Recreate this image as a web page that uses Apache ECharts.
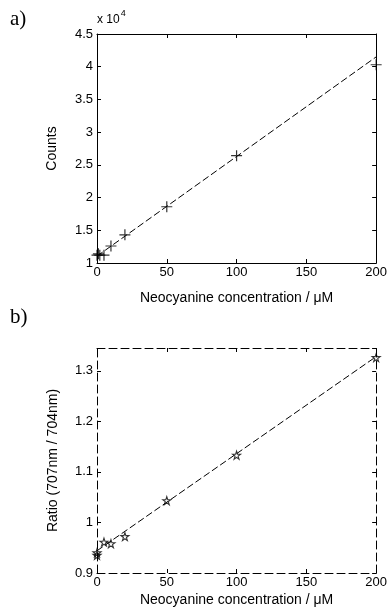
<!DOCTYPE html>
<html>
<head>
<meta charset="utf-8">
<script src="https://cdn.jsdelivr.net/npm/echarts@6/dist/echarts.min.js"></script>
<style>
  html, body { margin: 0; padding: 0; background: #fff; }
  #chart { width: 390px; height: 615px; }
</style>
</head>
<body>
<div id="chart"></div>
<script>
// panel a: counts (x 10^4) vs concentration
const concA = [0, 1, 2, 5, 10, 20, 50, 100, 200];
const countsA = [1.12, 1.14, 1.12, 1.12, 1.26, 1.43, 1.86, 2.64, 4.03];
const fitX = [0, 200];
const fitA = [1.105, 4.15];

// panel b: ratio 707nm / 704nm vs concentration
const concB = [0, 0, 5, 10, 20, 50, 100, 200];
const ratioB = [0.94, 0.935, 0.961, 0.958, 0.972, 1.043, 1.133, 1.326];
const fitB = [0.944, 1.328];

const font = 'Liberation Sans, Arial, sans-serif';
const black = '#000';

const plusPath = 'path://M0,5 L10,5 M5,0 L5,10';
const starPath = 'path://M5,0 L6.2,3.6 L10,3.6 L6.9,5.9 L8.1,9.5 L5,7.3 L1.9,9.5 L3.1,5.9 L0,3.6 L3.8,3.6 Z';

const chart = echarts.init(document.getElementById('chart'));

const axisCommon = (dashed) => ({
  axisLine: { show: true, onZero: false, lineStyle: { color: black, width: 1, type: dashed ? [8, 4] : 'solid' } },
  axisTick: { show: true, inside: true, length: 4, lineStyle: { color: black } },
  splitLine: { show: false },
  axisLabel: { color: black, fontFamily: font, fontSize: 13 }
});

const nameStyle = { color: black, fontFamily: font, fontSize: 14 };

const xAxisFor = (gridIndex, dashed, gap) => [
  {
    ...axisCommon(dashed),
    type: 'value', gridIndex, min: 0, max: 200, interval: 50, position: 'bottom',
    name: 'Neocyanine concentration / \u03bcM', nameLocation: 'middle', nameGap: gap,
    nameTextStyle: nameStyle,
    axisLabel: { color: black, fontFamily: font, fontSize: 13, margin: 3 }
  },
  {
    ...axisCommon(dashed),
    type: 'value', gridIndex, min: 0, max: 200, interval: 50, position: 'top',
    axisLabel: { show: false }
  }
];

const fmtB = (v) => {
  const r = Math.round(v * 10);
  if (Math.abs(v * 10 - r) > 1e-6) return '';
  return String(+(r / 10).toFixed(1));
};

chart.setOption({
  animation: false,
  grid: [
    { left: 97, top: 34, width: 281, height: 229 },
    { left: 97, top: 348, width: 281, height: 225 }
  ],
  xAxis: [...xAxisFor(0, false, 28), ...xAxisFor(1, true, 20)],
  yAxis: [
    {
      ...axisCommon(false),
      type: 'value', gridIndex: 0, min: 1, max: 4.5, interval: 0.5, position: 'left',
      name: 'Counts', nameLocation: 'middle', nameGap: 38, nameRotate: 90,
      nameTextStyle: nameStyle,
      axisLabel: { color: black, fontFamily: font, fontSize: 13, margin: 4 }
    },
    {
      ...axisCommon(false),
      type: 'value', gridIndex: 0, min: 1, max: 4.5, interval: 0.5, position: 'right',
      axisLabel: { show: false }
    },
    {
      ...axisCommon(true),
      type: 'value', gridIndex: 1, min: 0.9, max: 1.345, interval: 0.1, position: 'left',
      name: 'Ratio (707nm / 704nm)', nameLocation: 'middle', nameGap: 37, nameRotate: 90,
      nameTextStyle: nameStyle,
      axisLabel: { color: black, fontFamily: font, fontSize: 13, margin: 4, formatter: fmtB }
    },
    {
      ...axisCommon(true),
      type: 'value', gridIndex: 1, min: 0.9, max: 1.345, interval: 0.1, position: 'right',
      axisLabel: { show: false }
    }
  ],
  series: [
    {
      type: 'line', xAxisIndex: 0, yAxisIndex: 0,
      data: fitX.map((x, i) => [x, fitA[i]]),
      showSymbol: false, silent: true,
      lineStyle: { color: black, width: 1, type: [7, 3] }
    },
    {
      type: 'scatter', xAxisIndex: 0, yAxisIndex: 0,
      data: concA.map((x, i) => [x, countsA[i]]),
      symbol: plusPath, symbolSize: 11,
      itemStyle: { color: 'none', borderColor: black, borderWidth: 1.2 }
    },
    {
      type: 'line', xAxisIndex: 2, yAxisIndex: 2,
      data: fitX.map((x, i) => [x, fitB[i]]),
      showSymbol: false, silent: true,
      lineStyle: { color: black, width: 1, type: [7, 3] }
    },
    {
      type: 'scatter', xAxisIndex: 2, yAxisIndex: 2,
      data: concB.map((x, i) => [x, ratioB[i]]),
      symbol: starPath, symbolSize: 8,
      itemStyle: { color: 'none', borderColor: black, borderWidth: 1.1 }
    }
  ],
  graphic: [
    {
      type: 'text', left: 10, top: 9,
      style: { text: 'a)', font: '21px "Liberation Serif", "Times New Roman", serif', fill: black }
    },
    {
      type: 'text', left: 10, top: 307,
      style: { text: 'b)', font: '21px "Liberation Serif", "Times New Roman", serif', fill: black }
    },
    {
      type: 'text', left: 97, top: 9,
      style: {
        text: '{a|x 10}{b|4}',
        rich: {
          a: { fontFamily: font, fontSize: 12, fill: black, padding: [6, 0, 0, 0] },
          b: { fontFamily: font, fontSize: 9, fill: black, padding: [0, 0, 6, 1] }
        }
      }
    }
  ]
});
</script>
</body>
</html>
